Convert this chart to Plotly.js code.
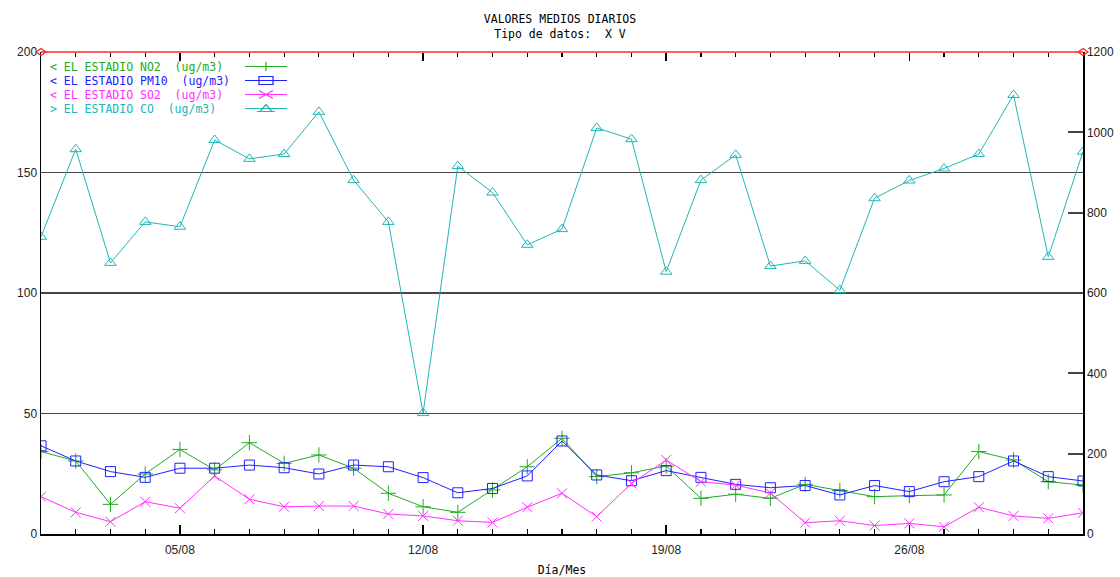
<!DOCTYPE html>
<html>
<head>
<meta charset="utf-8">
<script src="https://cdn.plot.ly/plotly-3.0.1.min.js"></script>
<style>html,body{margin:0;padding:0;background:#fff;}</style>
</head>
<body>
<div id="chart" style="width:1120px;height:577px;"></div>
<script>
// ---- data ----
const days = [1,2,3,4,5,6,7,8,9,10,11,12,13,14,15,16,17,18,19,20,21,22,23,24,25,26,27,28,29,30,31];
const no2  = [34.2,30.3,12.3,24.9,35.1,26.6,37.9,29.3,32.8,27.3,16.9,11.3,9.0,18.3,27.9,39.7,23.8,25.4,28.2,14.8,16.5,14.8,20.6,18.0,15.5,15.9,16.2,34.2,30.7,21.7,20.3];
const pm10 = [36.6,30.3,25.9,23.5,27.3,27.3,28.6,27.5,24.9,28.6,27.9,23.4,17.1,18.9,24.1,38.6,24.5,22.1,26.3,23.5,20.6,19.2,20.1,16.2,20.1,17.6,21.7,23.8,30.3,23.8,22.0];
const so2  = [15.5,9.0,5.1,13.4,10.7,24.1,14.4,11.3,11.6,11.6,8.3,7.5,5.5,4.8,11.1,16.9,7.2,21.0,30.7,21.7,20.3,17.0,4.7,5.5,3.5,4.4,3.0,11.1,7.5,6.5,8.8];
const co   = [740,958,675,777,765,981,934,946,1051,881,777,301,916,850,720,759,1011,983,653,881,944,667,680,607,836,880,910,946,1093,690,952];
const xTickVals = [5,12,19,26];
const xTickText = ["05/08","12/08","19/08","26/08"];
const leftTicks = [0,50,100,150,200];
const rightTicks = [0,200,400,600,800,1000,1200];
const legendLabels = ["<\u00a0EL\u00a0ESTADIO\u00a0NO2\u00a0\u00a0(ug/m3)",
                      "<\u00a0EL\u00a0ESTADIO\u00a0PM10\u00a0\u00a0(ug/m3)",
                      "<\u00a0EL\u00a0ESTADIO\u00a0SO2\u00a0\u00a0(ug/m3)",
                      ">\u00a0EL\u00a0ESTADIO\u00a0CO\u00a0\u00a0(ug/m3)"];
const colors = ["#22aa22","#2020ff","#ff30ff","#22b5b5"];

// ---- layout helpers ----
const W = 1120, H = 577, L = 41, R = 37, T = 52, B = 43;
const pw = W - L - R, ph = H - T - B;
const px = v => (v - L) / pw;
const py = v => (H - B - v) / ph;
const mono = "DejaVu Sans Mono, monospace";

const traces = [
  {x: days, y: no2, name: "NO2", type: "scatter", mode: "lines+markers",
   line: {color: colors[0], width: 1}, marker: {symbol: "cross-thin-open", size: 11, color: colors[0], line: {color: colors[0], width: 1}}},
  {x: days, y: pm10, name: "PM10", type: "scatter", mode: "lines+markers",
   line: {color: colors[1], width: 1}, marker: {symbol: "square-open", size: 10, color: colors[1], line: {color: colors[1], width: 1}}},
  {x: days, y: so2, name: "SO2", type: "scatter", mode: "lines+markers",
   line: {color: colors[2], width: 1}, marker: {symbol: "x-thin-open", size: 10, color: colors[2], line: {color: colors[2], width: 1}}},
  {x: days, y: co, name: "CO", type: "scatter", mode: "lines+markers", xaxis: "x2", yaxis: "y2",
   line: {color: colors[3], width: 1}, marker: {symbol: "triangle-up-open", size: 10, color: colors[3], line: {color: colors[3], width: 1}}}
];

const rowsY = [66.5, 80.5, 94.5, 108.5];
const annotations = legendLabels.map((t, i) => ({
  text: t, xref: "paper", yref: "paper", x: px(48), y: py(rowsY[i]),
  xanchor: "left", yanchor: "middle", showarrow: false,
  font: {family: mono, size: 11.5, color: colors[i]}
}));

const shapes = [];
// top red line at y=200 with diamonds at both ends
shapes.push({type: "line", xref: "paper", yref: "paper", x0: 0, x1: 1, y0: 1, y1: 1,
  line: {color: "#ff6060", width: 2}, layer: "above"});
[0, 1].forEach(xa => shapes.push({type: "path", xref: "paper", yref: "paper",
  xsizemode: "pixel", ysizemode: "pixel", xanchor: xa, yanchor: 1,
  path: "M-5,0L0,3.5L5,0L0,-3.5Z", line: {color: "#ff2020", width: 1.2}, fillcolor: "rgba(0,0,0,0)", layer: "above"}));
// legend samples
const sx = px(266);
const markerPaths = [
  "M0,-4.5L0,4.5",
  "M-7,-4L7,-4L7,4L-7,4Z",
  "M-7,-4L7,4M-7,4L7,-4",
  "M-6,-3L6,-3L0,4Z M-9,-3L9,-3"
];
rowsY.forEach((ry, i) => {
  shapes.push({type: "path", xref: "paper", yref: "paper", xsizemode: "pixel", ysizemode: "pixel",
    xanchor: sx, yanchor: py(ry), path: "M-21,0L21,0", line: {color: colors[i], width: 1.2}});
  shapes.push({type: "path", xref: "paper", yref: "paper", xsizemode: "pixel", ysizemode: "pixel",
    xanchor: sx, yanchor: py(ry), path: markerPaths[i], line: {color: colors[i], width: 1.2}, fillcolor: "rgba(0,0,0,0)"});
});

const minorTicks = {tickmode: "linear", tick0: 1, dtick: 1, ticks: "inside", ticklen: 5, tickwidth: 1.2, tickcolor: "#000", showgrid: false};

const layout = {
  width: W, height: H, autosize: false,
  margin: {l: L, r: R, t: T, b: B, pad: 0},
  showlegend: false,
  font: {family: "Liberation Sans, Arial, sans-serif", size: 12, color: "#222"},
  title: {text: "VALORES\u00a0MEDIOS\u00a0DIARIOS<br>Tipo\u00a0de\u00a0datos:\u00a0\u00a0X\u00a0V",
          x: 0.5, xref: "container", xanchor: "center", y: 1 - 23/H, yref: "container", yanchor: "top",
          font: {family: mono, size: 11.5, color: "#000"}},
  xaxis: {range: [1, 31], showline: true, linecolor: "#000", linewidth: 1.5,
          tickmode: "array", tickvals: xTickVals, ticktext: xTickText,
          ticks: "inside", ticklen: 9, tickwidth: 1.5, tickcolor: "#000",
          minor: minorTicks,
          showgrid: false, zeroline: false, ticklabelstandoff: 4,
          title: {text: "Día/Mes", standoff: 13, font: {family: mono, size: 11.5, color: "#000"}}},
  xaxis2: {range: [1, 31], overlaying: "x", side: "top", anchor: "y2", showline: false,
           tickmode: "array", tickvals: xTickVals, showticklabels: false,
           ticks: "inside", ticklen: 9, tickwidth: 1.5, tickcolor: "#000",
           minor: minorTicks, showgrid: false, zeroline: false},
  yaxis: {range: [0, 200], tickmode: "array", tickvals: leftTicks, ticks: "", showline: true,
          linecolor: "#000", linewidth: 1.5, showgrid: true, gridcolor: "#444", gridwidth: 1.5,
          zeroline: false},
  yaxis2: {range: [0, 1200], overlaying: "y", side: "right", anchor: "x2", tickmode: "array", tickvals: rightTicks,
           ticks: "inside", ticklen: 15, tickwidth: 2, tickcolor: "#444", showline: true,
           linecolor: "#000", linewidth: 1.5, showgrid: false, zeroline: false},
  annotations: annotations,
  shapes: shapes
};

Plotly.newPlot("chart", traces, layout, {displayModeBar: false, staticPlot: true});
</script>
</body>
</html>
